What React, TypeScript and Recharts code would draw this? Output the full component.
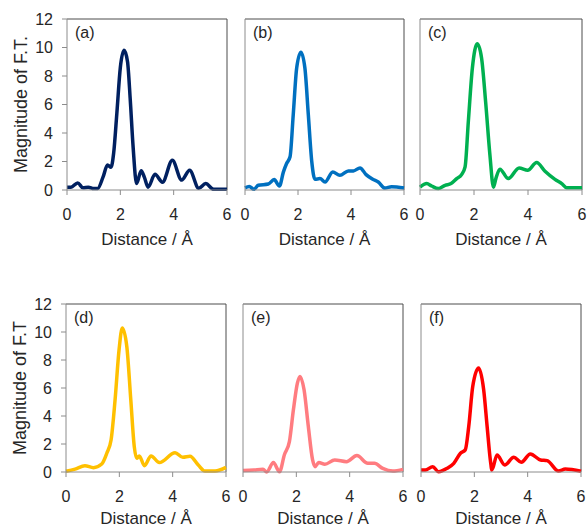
import { LineChart, Line, XAxis, YAxis, ReferenceLine } from 'recharts'

// distances (Å) and F.T. magnitudes
const rA = [0, 0.15, 0.4, 0.6, 0.8, 1.0, 1.15, 1.35, 1.52, 1.65, 1.75, 1.87, 2.0, 2.14, 2.27, 2.37, 2.48, 2.61, 2.78, 2.9, 3.04, 3.3, 3.58, 3.95, 4.3, 4.6, 4.94, 5.2, 5.5, 6.0]
const ftA = [0.2, 0.2, 0.5, 0.15, 0.2, 0.1, 0.1, 0.9, 1.75, 1.6, 2.6, 5.4, 8.6, 9.8, 9.0, 6.4, 3.0, 0.45, 1.35, 0.9, 0.2, 1.1, 0.55, 2.08, 0.7, 1.38, 0.12, 0.45, 0.05, 0.05]

const rB = [0, 0.16, 0.34, 0.5, 0.88, 1.1, 1.3, 1.45, 1.57, 1.7, 1.82, 1.95, 2.11, 2.26, 2.39, 2.52, 2.64, 2.83, 3.02, 3.31, 3.58, 3.9, 4.09, 4.34, 4.57, 4.82, 5.03, 5.28, 5.53, 6.0]
const ftB = [0.15, 0.25, 0.05, 0.33, 0.42, 0.73, 0.28, 1.27, 1.86, 2.33, 5.27, 8.56, 9.67, 8.56, 5.27, 1.98, 0.75, 0.8, 0.56, 1.27, 1.03, 1.34, 1.34, 1.55, 1.08, 0.75, 0.56, 0.14, 0.23, 0.14]

const rC = [0, 0.25, 0.43, 0.68, 0.93, 1.15, 1.36, 1.54, 1.67, 1.79, 1.94, 2.12, 2.28, 2.43, 2.59, 2.72, 2.81, 2.96, 3.27, 3.67, 3.99, 4.32, 4.63, 5.0, 5.25, 5.43, 6.0]
const ftC = [0.2, 0.45, 0.28, 0.1, 0.33, 0.45, 0.8, 1.08, 1.62, 4.8, 8.56, 10.26, 9.27, 6.2, 2.45, 0.2, 0.8, 1.46, 0.8, 1.55, 1.39, 1.93, 1.32, 0.75, 0.45, 0.16, 0.15]

const rD = [0, 0.34, 0.71, 1.03, 1.34, 1.53, 1.69, 1.84, 1.99, 2.11, 2.28, 2.43, 2.56, 2.65, 2.75, 2.94, 3.19, 3.5, 4.09, 4.38, 4.65, 4.96, 5.21, 5.59, 6.0]
const ftD = [0.05, 0.21, 0.45, 0.31, 0.57, 1.34, 2.29, 5.15, 8.73, 10.29, 8.97, 5.15, 1.81, 0.98, 1.15, 0.45, 1.15, 0.67, 1.38, 1.05, 1.12, 0.5, 0.07, 0.07, 0.33]

const rE = [0, 0.4, 0.75, 0.89, 1.14, 1.37, 1.55, 1.74, 1.89, 2.04, 2.14, 2.29, 2.45, 2.61, 2.7, 2.84, 3.07, 3.44, 3.88, 4.27, 4.68, 4.93, 5.24, 5.62, 6.0]
const ftE = [0.1, 0.14, 0.19, 0.0, 0.67, 0.02, 1.22, 2.17, 4.44, 6.35, 6.83, 5.87, 3.25, 0.86, 0.38, 0.67, 0.55, 0.86, 0.74, 1.17, 0.62, 0.62, 0.26, 0.07, 0.19]

const rF = [0, 0.16, 0.44, 0.66, 0.98, 1.23, 1.48, 1.66, 1.79, 1.94, 2.16, 2.35, 2.48, 2.6, 2.66, 2.85, 3.14, 3.48, 3.76, 4.1, 4.48, 4.73, 5.16, 5.41, 6.0]
const ftF = [0.14, 0.14, 0.38, 0.02, 0.26, 0.62, 1.34, 1.58, 3.25, 6.1, 7.42, 5.87, 3.25, 0.86, 0.14, 1.22, 0.5, 1.05, 0.69, 1.29, 0.86, 0.81, 0.07, 0.21, 0.05]

const xTicks = [0, 2, 4, 6]
const yTicks = [0, 2, 4, 6, 8, 10, 12]

const toData = (r: number[], ft: number[]) => r.map((d, i) => ({ r: d, ft: ft[i] }))

const axisColor = '#8c8c8c'
const frameColor = '#4d4d4d'
const textColor = '#262626'

interface PanelProps {
  data: { r: number; ft: number }[]
  color: string
  tag: string
  yLabel?: string
  left: number
  top: number
  plotWidth: number
  plotHeight: number
  xAxisHeight: number
  bottomPad: number
  labelOffset: number
}

function Panel({ data, color, tag, yLabel, left, top, plotWidth, plotHeight, xAxisHeight, bottomPad, labelOffset }: PanelProps) {
  const yWidth = yLabel ? 66 : 12
  const width = yWidth + plotWidth + 12
  const height = 19 + plotHeight + xAxisHeight + bottomPad
  return (
    <div style={{ position: 'absolute', left: left - yWidth, top: top - 19 }}>
      <LineChart width={width} height={height} data={data} margin={{ top: 19, right: 12, bottom: bottomPad, left: 0 }}>
        <XAxis
          dataKey="r"
          type="number"
          domain={[0, 6]}
          ticks={xTicks}
          height={xAxisHeight}
          stroke={axisColor}
          tickSize={5}
          tickMargin={14}
          tick={{ fill: textColor, fontSize: 16 }}
          label={{ value: 'Distance / Å', position: 'insideBottom', offset: labelOffset, fill: textColor, fontSize: 17 }}
        />
        <YAxis
          type="number"
          domain={[0, 12]}
          ticks={yTicks}
          width={yWidth}
          stroke={axisColor}
          tickSize={5}
          tickMargin={9}
          tick={yLabel ? { fill: textColor, fontSize: 16 } : false}
          tickLine={!!yLabel}
          label={
            yLabel
              ? { value: yLabel, angle: -90, position: 'insideLeft', offset: 20, fill: textColor, fontSize: 18, style: { textAnchor: 'middle' } }
              : undefined
          }
        />
        <ReferenceLine
          y={12}
          stroke={frameColor}
          label={{ value: tag, position: 'insideTopLeft', offset: 8, fill: textColor, fontSize: 16 }}
        />
        <ReferenceLine x={6} stroke={frameColor} />
        <Line type="monotone" dataKey="ft" stroke={color} strokeWidth={3.5} dot={false} isAnimationActive={false} />
      </LineChart>
    </div>
  )
}

export default function App() {
  const topRow = { plotHeight: 171, xAxisHeight: 57, bottomPad: 2, labelOffset: 2 }
  const bottomRow = { plotHeight: 168, xAxisHeight: 56, bottomPad: 0, labelOffset: 4 }
  return (
    <div
      style={{
        position: 'absolute',
        left: 0,
        top: 0,
        width: 587,
        height: 529,
        background: '#fff',
        fontFamily: '"Liberation Sans", Arial, sans-serif',
      }}
    >
      <Panel data={toData(rA, ftA)} color="#002060" tag="(a)" yLabel="Magnitude of F.T." left={67} top={19} plotWidth={160} {...topRow} />
      <Panel data={toData(rB, ftB)} color="#0070C0" tag="(b)" left={245} top={19} plotWidth={159} {...topRow} />
      <Panel data={toData(rC, ftC)} color="#00B050" tag="(c)" left={420} top={19} plotWidth={162} {...topRow} />
      <Panel data={toData(rD, ftD)} color="#FFC000" tag="(d)" yLabel="Magnitude of F.T" left={66} top={304} plotWidth={160} {...bottomRow} />
      <Panel data={toData(rE, ftE)} color="#FF7C80" tag="(e)" left={243} top={304} plotWidth={160} {...bottomRow} />
      <Panel data={toData(rF, ftF)} color="#FF0000" tag="(f)" left={421} top={304} plotWidth={160} {...bottomRow} />
    </div>
  )
}
